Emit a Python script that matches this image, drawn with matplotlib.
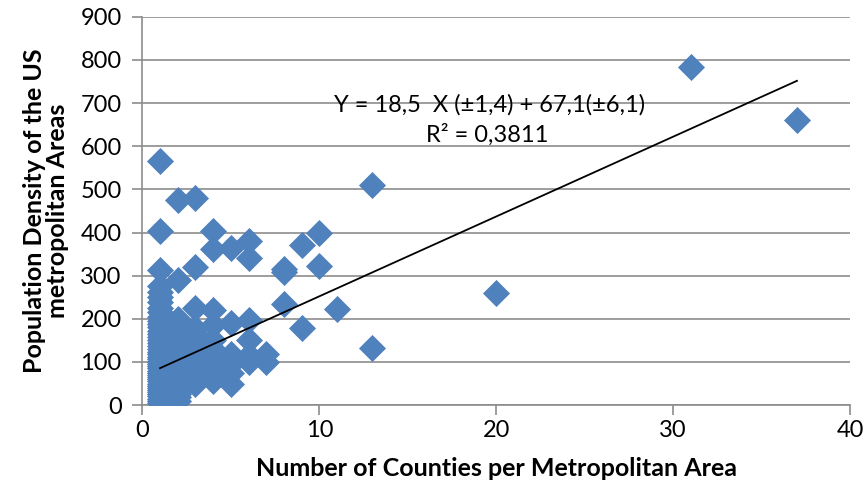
import matplotlib.pyplot as plt

plt.rcParams['font.family'] = ['Lato', 'DejaVu Sans']

# densities, grouped by number of counties
dens_1 = [565, 403, 312, 275, 262, 250, 238, 225, 215, 205, 195, 188, 180, 172,
          165, 158, 150, 143, 136, 130, 124, 118, 112, 106, 100, 95, 90, 85, 80,
          75, 70, 65, 60, 55, 50, 45, 40, 35, 30, 25, 20, 15, 10, 5]
dens_2 = [475, 290, 200, 185, 172, 160, 150, 140, 130, 120, 112, 104, 96, 88,
          80, 72, 64, 56, 48, 40, 32, 25, 18, 10]
dens_3 = [480, 320, 225, 178, 165, 150, 138, 125, 112, 100, 90, 80, 70, 60, 50]
dens_4 = [403, 362, 220, 185, 150, 130, 115, 100, 85, 70, 55]
dens_5 = [365, 190, 118, 95, 75, 50]
dens_6 = [380, 340, 197, 150, 115, 100]
dens_7 = [118, 100]
dens_8 = [315, 308, 235]
dens_9 = [370, 178]
dens_10 = [400, 322]
dens_11 = [222]
dens_13 = [510, 133]
dens_20 = [260]
dens_31 = [783]
dens_37 = [660]

groups = {1: dens_1, 2: dens_2, 3: dens_3, 4: dens_4, 5: dens_5, 6: dens_6,
          7: dens_7, 8: dens_8, 9: dens_9, 10: dens_10, 11: dens_11,
          13: dens_13, 20: dens_20, 31: dens_31, 37: dens_37}

counties = []
density = []
for k, vals in groups.items():
    counties += [k] * len(vals)
    density += vals

# trend line from the chart label
slope = 18.5
intercept = 67.1
fit_x = [1, 37]
fit_y = [slope * v + intercept for v in fit_x]

fig = plt.figure(figsize=(8.63, 4.94), dpi=100)
ax = fig.add_axes([0.165, 0.18, 0.82, 0.786])

ax.scatter(counties, density, marker='D', s=190, color='#4F81BD', zorder=3,
           linewidths=0)
ax.plot(fit_x, fit_y, color='black', lw=1.3, zorder=4)

ax.set_xlim(0, 40)
ax.set_ylim(0, 900)
ax.set_xticks(range(0, 41, 10))
ax.set_yticks(range(0, 901, 100))
ax.yaxis.grid(True, color='#8c8c8c', lw=1.2)
ax.set_axisbelow(True)
for s in ['top', 'right']:
    ax.spines[s].set_visible(False)
for s in ['left', 'bottom']:
    ax.spines[s].set_color('#8c8c8c')
    ax.spines[s].set_linewidth(1.2)
ax.tick_params(colors='#8c8c8c', labelcolor='black', labelsize=17,
               length=7, width=1.2)
ax.tick_params(axis='y', pad=8)

ax.set_xlabel('Number of Counties per Metropolitan Area', fontsize=18,
              fontweight='bold', labelpad=12)
ax.set_ylabel('Population Density of the US\nmetropolitan Areas', fontsize=18,
              fontweight='bold', labelpad=8, linespacing=1.0)

ax.text(19.6, 695, 'Y = 18,5  X (\u00b11,4) + 67,1(\u00b16,1)', fontsize=17,
        ha='center', va='center')
ax.text(19.5, 627, 'R\u00b2 = 0,3811', fontsize=17, ha='center', va='center')

fig.savefig('out.png', dpi=100)
